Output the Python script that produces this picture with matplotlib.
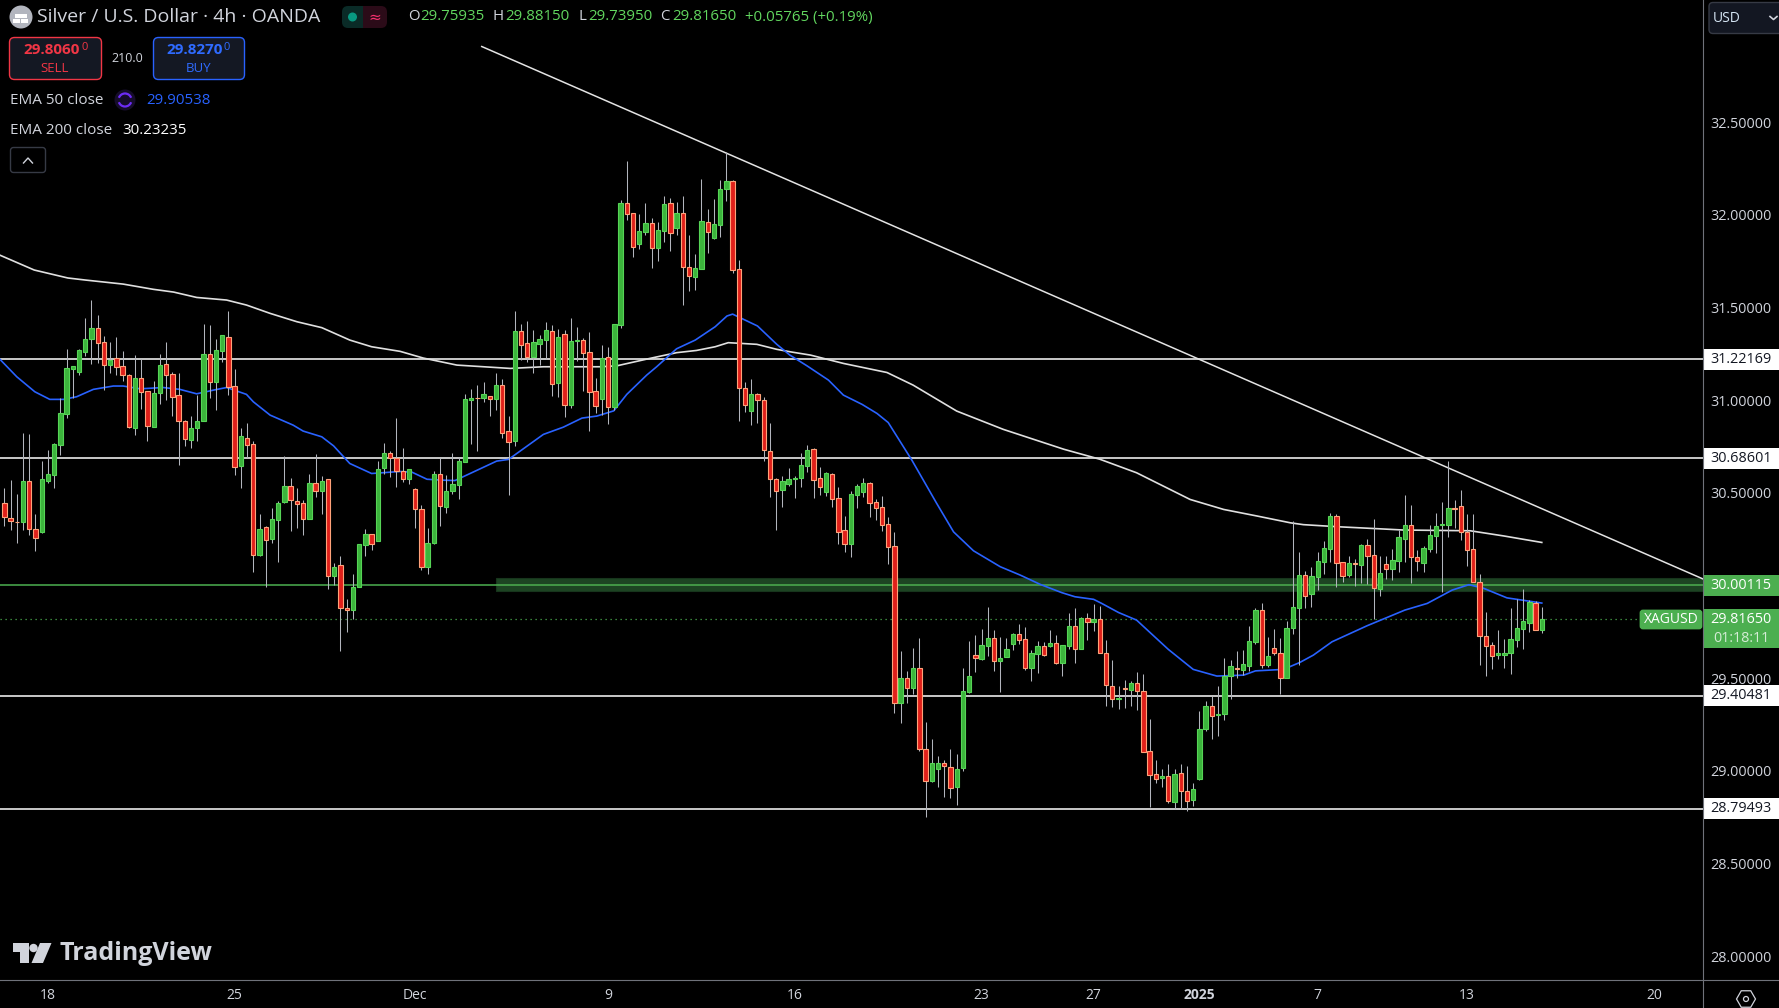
import numpy as np
import matplotlib
matplotlib.use('Agg')
import matplotlib.pyplot as plt
from matplotlib.patches import Rectangle, FancyBboxPatch, Circle, Polygon, Arc, RegularPolygon

plt.rcParams['font.family'] = ['Open Sans', 'DejaVu Sans']

# 4h candles
highs = [30.528,30.568,30.492,30.820,30.816,30.388,30.669,30.730,30.766,31.014,
         31.275,31.184,31.275,31.443,31.540,31.459,31.346,31.313,31.340,31.265,
         31.139,31.243,31.221,31.049,31.103,31.248,31.313,31.153,31.146,30.892,
         30.914,31.027,31.410,31.405,31.328,31.351,31.481,31.167,30.847,30.874,
         30.777,30.384,30.321,30.420,30.455,30.698,30.582,30.528,30.460,30.604,
         30.708,30.593,30.577,30.123,30.161,29.925,30.060,30.222,30.303,30.276,
         30.669,30.766,30.723,30.903,30.739,30.631,30.528,30.433,30.309,30.617,
         30.687,30.595,30.714,30.692,31.031,31.059,31.079,31.097,31.022,31.146,
         31.113,30.914,31.481,31.410,31.427,31.378,31.351,31.421,31.405,31.383,
         31.378,31.443,31.394,31.335,31.367,31.119,31.297,31.286,31.412,32.080,
         32.291,32.010,32.004,32.064,31.983,31.961,32.102,32.091,32.069,32.102,
         31.891,31.788,32.193,32.031,32.085,32.188,32.337,32.186,31.754,31.097,
         31.113,31.036,31.018,30.874,30.581,30.593,30.633,30.590,30.715,30.758,
         30.742,30.639,30.610,30.607,30.531,30.373,30.510,30.547,30.578,30.558,
         30.466,30.483,30.369,30.288,29.646,29.538,29.662,29.716,29.262,29.170,
         29.079,29.057,29.116,29.089,29.554,29.700,29.732,29.764,29.883,29.759,
         29.721,29.716,29.741,29.791,29.775,29.651,29.700,29.694,29.757,29.732,
         29.678,29.851,29.878,29.829,29.851,29.899,29.889,29.705,29.597,29.457,
         29.489,29.484,29.532,29.521,29.278,29.057,29.008,29.035,29.008,29.035,
         29.025,28.933,29.322,29.376,29.406,29.457,29.606,29.597,29.646,29.651,
         29.781,29.878,29.905,29.721,29.763,29.714,29.808,30.348,30.178,30.078,
         30.099,30.180,30.238,30.391,30.384,30.126,30.159,30.142,30.222,30.250,
         30.358,30.159,30.159,30.196,30.299,30.488,30.434,30.191,30.213,30.326,
         30.393,30.452,30.672,30.461,30.515,30.385,30.385,30.061,29.856,29.696,
         29.759,29.710,29.878,29.925,29.979,29.923,29.914,29.881]
lows = [30.320,30.298,30.230,30.298,30.271,30.186,30.285,30.554,30.525,30.703,
        30.903,31.014,31.135,31.238,31.194,31.198,31.054,31.148,31.135,31.104,
        30.851,30.811,30.951,30.779,30.854,30.978,31.000,30.914,30.649,30.753,
        30.743,30.779,30.887,31.011,30.946,31.207,31.027,30.595,30.527,30.694,
        30.073,30.159,29.992,30.230,30.127,30.446,30.294,30.311,30.273,30.357,
        30.478,30.384,29.979,30.003,29.646,29.749,29.817,29.990,30.158,30.190,
        30.238,30.600,30.586,30.532,30.557,30.550,30.309,30.082,30.060,30.222,
        30.320,30.390,30.496,30.465,30.665,30.762,30.725,30.989,30.914,30.946,
        30.795,30.487,30.752,31.216,31.205,31.146,31.189,31.223,31.022,31.016,
        30.908,30.957,31.211,31.049,30.833,30.930,30.919,30.870,30.946,31.389,
        31.972,31.772,31.815,31.891,31.713,31.751,31.853,31.805,31.891,31.513,
        31.589,31.594,31.707,31.794,31.871,31.880,32.075,31.686,30.887,30.935,
        30.865,30.874,30.671,30.476,30.298,30.422,30.536,30.471,30.531,30.614,
        30.472,30.488,30.483,30.423,30.223,30.180,30.153,30.418,30.475,30.369,
        30.353,30.294,30.115,29.311,29.257,29.368,29.413,29.107,28.751,28.940,
        28.911,28.857,28.852,28.814,28.999,29.417,29.532,29.597,29.619,29.538,
        29.424,29.613,29.651,29.683,29.543,29.484,29.527,29.619,29.669,29.575,
        29.511,29.658,29.581,29.656,29.705,29.754,29.635,29.349,29.343,29.332,
        29.338,29.349,29.327,29.100,28.803,28.933,28.911,28.827,28.796,28.792,
        28.783,28.809,28.949,29.214,29.170,29.187,29.273,29.386,29.500,29.516,
        29.538,29.685,29.554,29.561,29.624,29.413,29.500,29.737,29.570,29.878,
        29.883,29.975,30.061,30.128,29.993,30.018,30.045,29.997,30.015,30.006,
        29.817,29.943,30.034,30.029,30.072,30.124,30.013,30.078,30.072,30.180,
        30.175,29.964,30.261,30.310,30.245,30.105,30.018,29.570,29.511,29.548,
        29.602,29.554,29.521,29.667,29.656,29.748,29.759,29.743]
opens = [30.447,30.366,30.345,30.343,30.566,30.307,30.289,30.564,30.597,30.759,
         30.926,31.169,31.153,31.261,31.328,31.387,31.311,31.191,31.225,31.182,
         31.133,30.851,31.122,31.047,30.856,31.040,31.193,31.139,31.025,30.890,
         30.786,30.851,30.888,31.247,31.099,31.266,31.338,31.074,30.645,30.798,
         30.761,30.165,30.318,30.251,30.354,30.451,30.534,30.458,30.447,30.359,
         30.555,30.510,30.572,30.051,30.113,29.880,29.868,29.992,30.219,30.275,
         30.240,30.635,30.717,30.685,30.620,30.575,30.523,30.410,30.100,30.230,
         30.604,30.424,30.510,30.543,30.667,31.002,31.014,31.013,31.020,31.007,
         31.079,30.831,30.780,31.371,31.306,31.234,31.304,31.326,31.371,31.094,
         31.355,30.975,31.320,31.322,31.257,31.047,31.007,31.230,30.962,31.407,
         32.062,32.008,31.844,31.909,31.954,31.823,31.914,32.062,31.931,32.008,
         31.716,31.666,31.709,31.959,31.873,31.947,32.141,32.181,31.706,31.063,
         30.942,31.031,30.998,30.728,30.577,30.516,30.548,30.572,30.582,30.646,
         30.735,30.578,30.506,30.600,30.470,30.297,30.225,30.490,30.506,30.551,
         30.448,30.421,30.330,30.211,29.367,29.498,29.448,29.557,29.120,28.945,
         29.010,29.044,29.023,28.913,29.016,29.426,29.622,29.604,29.674,29.719,
         29.593,29.615,29.685,29.736,29.709,29.556,29.631,29.671,29.673,29.692,
         29.583,29.674,29.779,29.658,29.822,29.804,29.817,29.638,29.460,29.388,
         29.444,29.435,29.476,29.428,29.104,28.980,28.960,28.974,28.832,28.990,
         28.893,28.843,28.954,29.226,29.352,29.302,29.307,29.512,29.557,29.545,
         29.566,29.696,29.865,29.572,29.665,29.638,29.502,29.772,29.880,30.054,
         29.955,30.047,30.128,30.198,30.373,30.124,30.058,30.119,30.112,30.216,
         30.162,29.982,30.114,30.090,30.133,30.252,30.324,30.151,30.123,30.198,
         30.268,30.326,30.328,30.416,30.427,30.286,30.195,30.016,29.725,29.676,
         29.626,29.626,29.637,29.707,29.766,29.799,29.903,29.761]
closes = [30.370,30.348,30.343,30.566,30.305,30.257,30.572,30.599,30.762,30.928,
          31.171,31.182,31.268,31.328,31.387,31.310,31.191,31.214,31.180,31.137,
          30.856,31.122,31.045,30.861,31.036,31.187,31.137,31.018,30.888,30.791,
          30.852,30.890,31.247,31.099,31.268,31.349,31.072,30.640,30.804,30.759,
          30.165,30.307,30.246,30.361,30.447,30.534,30.462,30.442,30.359,30.555,
          30.510,30.566,30.051,30.102,29.880,29.868,29.994,30.221,30.280,30.224,
          30.631,30.712,30.687,30.618,30.575,30.626,30.413,30.100,30.231,30.604,
          30.429,30.512,30.545,30.669,31.004,31.014,31.013,31.031,31.007,31.079,
          30.824,30.775,31.371,31.299,31.234,31.311,31.328,31.376,31.088,31.338,
          30.975,31.317,31.322,31.256,31.045,30.969,31.225,30.964,31.409,32.062,
          32.006,31.828,31.911,31.954,31.823,31.916,32.057,31.904,32.008,31.720,
          31.671,31.711,31.965,31.909,31.949,32.138,32.181,31.704,31.068,30.975,
          31.031,30.998,30.732,30.575,30.510,30.561,30.572,30.582,30.648,30.729,
          30.571,30.533,30.605,30.468,30.290,30.225,30.492,30.535,30.551,30.447,
          30.420,30.328,30.209,29.367,29.498,29.448,29.552,29.118,28.945,29.044,
          29.044,29.026,28.908,29.012,29.433,29.514,29.610,29.676,29.719,29.593,
          29.611,29.655,29.736,29.707,29.556,29.633,29.671,29.626,29.692,29.583,
          29.676,29.779,29.658,29.822,29.804,29.817,29.637,29.464,29.388,29.390,
          29.439,29.471,29.431,29.102,28.978,28.956,28.974,28.837,28.985,28.891,
          28.837,28.904,29.223,29.352,29.296,29.307,29.514,29.568,29.550,29.574,
          29.698,29.865,29.572,29.617,29.637,29.502,29.773,29.881,30.054,29.944,
          30.049,30.130,30.200,30.373,30.123,30.052,30.119,30.117,30.216,30.160,
          29.988,30.069,30.090,30.135,30.259,30.324,30.155,30.133,30.200,30.270,
          30.319,30.330,30.416,30.414,30.290,30.193,30.020,29.725,29.674,29.620,
          29.633,29.638,29.709,29.768,29.806,29.908,29.761,29.817]

# moving averages, read at bar positions
ema50_x = [-0.7,2,4.9,7.3,9.5,11.6,14.3,17.5,19.1,21.8,25.5,28.2,30.9,33.6,35.7,38.9,40,42.7,46.4,48,51,52.9,
           55.5,59,63.6,65.5,67.9,70.5,72.4,79.1,81,86.6,89.8,92.8,95.2,97.9,100,103.2,104.8,108,111,114.2,
           116.1,117,121,124.1,126.2,129,132.4,134.8,137.8,140.2,142,145.8,149.8,152.5,155.7,160,163.2,166.4,
           169.9,172,175,176.3,179,181.9,187,191,194.8,199.1,201,205.5,208.1,210.3,213.3,218.9,225,228.6,
           232.6,235.3,237.7,241.4,247]
ema50_y = [31.220,31.126,31.045,31.004,31.004,31.018,31.058,31.076,31.076,31.061,31.068,31.058,31.034,31.054,31.068,
           31.031,30.991,30.919,30.865,30.833,30.802,30.753,30.658,30.604,30.615,30.611,30.573,30.568,30.566,30.671,
           30.680,30.815,30.854,30.903,30.914,30.942,31.031,31.135,31.180,31.277,31.324,31.396,31.454,31.464,31.400,
           31.301,31.243,31.184,31.108,31.027,30.977,30.928,30.879,30.676,30.442,30.289,30.187,30.101,30.056,30.006,
           29.961,29.939,29.925,29.903,29.854,29.813,29.655,29.547,29.511,29.516,29.539,29.547,29.584,29.624,29.696,
           29.782,29.867,29.903,29.975,30.004,29.984,29.933,29.905]
ema200_x = [-0.7,4.8,10.2,13,19.1,23.9,27.2,30.9,35.7,38.9,42.7,47,51,55.5,59,63.6,67.3,72.7,81.3,86.6,95.7,98.4,
            103.7,108,111.2,114.2,116.3,120.9,124.1,126.2,129.5,134.8,141.8,146,153,160.5,170.2,176,181.9,190.5,
            195.9,201.2,206.6,208.7,214.1,219.5,224.8,235.5,240.9,247]
ema200_y = [31.782,31.702,31.659,31.648,31.626,31.598,31.583,31.554,31.540,31.513,31.468,31.423,31.391,31.324,31.288,
            31.263,31.227,31.189,31.171,31.180,31.180,31.185,31.225,31.256,31.268,31.288,31.310,31.301,31.274,31.261,
            31.243,31.198,31.149,31.081,30.941,30.842,30.735,30.681,30.608,30.464,30.410,30.375,30.338,30.328,30.317,
            30.308,30.299,30.295,30.267,30.232]

levels = [31.22169, 30.68601, 29.40481, 28.79493]
resist = 30.00115
last_close = 29.81650
zone = [29.969, 30.042]
zone_start = 79.0
trend_x = [76.7, 272.9]
trend_y = [32.908, 30.035]

price_ticks = [28.0, 28.5, 29.0, 29.5, 30.5, 31.0, 31.5, 32.0, 32.5]
date_ticks = [7, 37, 66, 97, 127, 157, 175, 192, 211, 235, 265]
date_labels = ['18', '25', 'Dec', '9', '16', '23', '27', '2025', '7', '13', '20']

GREEN = '#4caf50'
TXT = '#d1d4dc'

opens = np.array(opens)
closes = np.array(closes)
idx = np.arange(len(opens))
up = closes >= opens

fig = plt.figure(figsize=(17.79, 10.08), dpi=100, facecolor='black')
ax = fig.add_axes([0, 28 / 1008, 1703 / 1779, 980 / 1008], facecolor='black')
ax.set_xlim(-0.696, 272.9)
ax.set_ylim(27.871, 33.159)

# levels, zone and averages sit behind the candles
ax.add_patch(Rectangle((zone_start, zone[0]), 272.9 - zone_start, zone[1] - zone[0],
                       facecolor='#1d4423', edgecolor='#17351c', lw=0.8, zorder=1))
ax.hlines(levels, -1, 273, color='white', lw=1.1, zorder=2)
ax.axhline(resist, color=GREEN, lw=1.1, zorder=2)
ax.axhline(last_close, color=GREEN, lw=0.9, ls=(0, (1, 3)), zorder=2)
ax.plot(trend_x, trend_y, color='#e4e4e4', lw=1.1, zorder=2)
ax.plot(ema200_x, ema200_y, color='#e0e0e0', lw=1.2, zorder=2)
ax.plot(ema50_x, ema50_y, color='#2962ff', lw=1.2, zorder=2)

ax.vlines(idx, lows, highs, color='#b2b5bd', lw=0.75, zorder=3)
ax.bar(idx[up], (closes - opens)[up], bottom=opens[up], width=0.7,
       facecolor='#3cb43c', edgecolor='#56d456', lw=0.8, zorder=4)
ax.bar(idx[~up], (opens - closes)[~up], bottom=closes[~up], width=0.7,
       facecolor='#e0201a', edgecolor='#ffa27a', lw=0.8, zorder=4)

ax.yaxis.tick_right()
ax.set_yticks(price_ticks)
ax.set_yticklabels([f'{t:.5f}' for t in price_ticks])
ax.tick_params(axis='y', length=0, pad=5.5, labelsize=10.4, labelcolor=TXT)
ax.set_xticks(date_ticks)
ax.set_xticklabels(date_labels)
ax.tick_params(axis='x', length=0, pad=6, labelsize=10, labelcolor=TXT)
ax.get_xticklabels()[date_labels.index('2025')].set_fontweight('bold')
for s in ax.spines.values():
    s.set_visible(False)

# price tags on the scale
tr = ax.get_yaxis_transform()
tag_w = 76 / 1703
tag_h = 10.5 / 185.3
for v in levels:
    ax.add_patch(Rectangle((1, v - tag_h), tag_w, 2 * tag_h, transform=tr, facecolor='white',
                           edgecolor='none', clip_on=False, zorder=6))
    ax.text(1 + tag_w / 2, v, f'{v:.5f}', transform=tr, color='#131722', fontsize=10.4,
            ha='center', va='center', clip_on=False, zorder=7)
ax.add_patch(Rectangle((1, resist - tag_h), tag_w, 2 * tag_h, transform=tr, facecolor=GREEN,
                       edgecolor='none', clip_on=False, zorder=6))
ax.text(1 + tag_w / 2, resist, f'{resist:.5f}', transform=tr, color='white', fontsize=10.4,
        ha='center', va='center', clip_on=False, zorder=7)

# everything else is chart furniture, placed in pixels
ov = fig.add_axes([0, 0, 1, 1], facecolor='none')
ov.set_xlim(0, 1779)
ov.set_ylim(1008, 0)
ov.axis('off')

ov.plot([1703, 1703], [0, 1008], color='#6f727a', lw=0.8)
ov.plot([0, 1779], [980, 980], color='#6f727a', lw=0.8)

# last price tag
ov.add_patch(FancyBboxPatch((1641, 611), 60, 17, boxstyle='round,pad=0,rounding_size=2', facecolor=GREEN, edgecolor=GREEN, lw=2))
ov.text(1671, 619.5, 'XAGUSD', color='white', fontsize=10, ha='center', va='center')
ov.add_patch(Rectangle((1703.5, 609), 75.5, 39, facecolor=GREEN, edgecolor='none'))
ov.text(1741, 619.5, f'{last_close:.5f}', color='white', fontsize=10.4, ha='center', va='center')
ov.text(1741, 638, '01:18:11', color='#d5ecd6', fontsize=10.4, ha='center', va='center')

# header
ov.add_patch(Circle((21, 17), 11.5, facecolor='#b2b5be', edgecolor='none'))
ov.add_patch(Rectangle((15, 14), 12, 4, facecolor='white', edgecolor='none'))
ov.add_patch(Rectangle((13, 19), 7, 4, facecolor='white', edgecolor='none'))
ov.add_patch(Rectangle((21, 19), 7, 4, facecolor='white', edgecolor='none'))
ov.text(37, 17, 'Silver / U.S. Dollar · 4h · OANDA', color=TXT, fontsize=14, ha='left', va='center')

ov.add_patch(FancyBboxPatch((342, 6), 23, 22, boxstyle='round,pad=0,rounding_size=6', facecolor='#0a2b27', edgecolor='none'))
ov.add_patch(FancyBboxPatch((362, 6), 25, 22, boxstyle='round,pad=0,rounding_size=6', facecolor='#2b0b18', edgecolor='none'))
ov.add_patch(Rectangle((353, 6), 10, 22, facecolor='#0a2b27', edgecolor='none'))
ov.add_patch(Rectangle((363, 6), 10, 22, facecolor='#2b0b18', edgecolor='none'))
ov.add_patch(Circle((352.5, 17), 4.5, facecolor='#089981', edgecolor='none'))
ov.text(375, 17, '≈', color='#f7316f', fontsize=11, ha='center', va='center', family=['DejaVu Sans'])

OHLC_GREEN = '#62d75f'
for x, s, c in [(408, 'O', TXT), (420, '29.75935', OHLC_GREEN), (493, 'H', TXT), (505, '29.88150', OHLC_GREEN),
                (578, 'L', TXT), (588, '29.73950', OHLC_GREEN), (660, 'C', TXT), (672, '29.81650', OHLC_GREEN),
                (745, '+0.05765 (+0.19%)', OHLC_GREEN)]:
    ov.text(x, 17, s, color=c, fontsize=10.8, ha='left', va='center')

# sell / buy buttons
ov.add_patch(FancyBboxPatch((9.5, 37.5), 92, 42, boxstyle='round,pad=0,rounding_size=5', facecolor='#141823', edgecolor='#f23645', lw=1))
ov.add_patch(FancyBboxPatch((153.5, 37.5), 91, 42, boxstyle='round,pad=0,rounding_size=5', facecolor='#141823', edgecolor='#2962ff', lw=1))
ov.text(23, 50, '29.8060', color='#f23645', fontsize=11, fontweight='bold', ha='left', va='center')
ov.text(81, 48, '0', color='#f23645', fontsize=8, ha='left', va='center')
ov.text(55, 68, 'SELL', color='#f23645', fontsize=9.5, ha='center', va='center')
ov.text(127, 58, '210.0', color=TXT, fontsize=9, ha='center', va='center')
ov.text(166, 50, '29.8270', color='#2f6bff', fontsize=11, fontweight='bold', ha='left', va='center')
ov.text(224, 48, '0', color='#2f6bff', fontsize=8, ha='left', va='center')
ov.text(199, 68, 'BUY', color='#2f6bff', fontsize=9.5, ha='center', va='center')

# indicator legend
ov.text(10, 100, 'EMA 50 close', color=TXT, fontsize=11, ha='left', va='center')
ov.add_patch(Circle((125, 100), 10.5, facecolor='#160d2b', edgecolor='none'))
ov.add_patch(Arc((125, 100), 13, 13, theta1=20, theta2=160, color='#6c2cf5', lw=1.6))
ov.add_patch(Arc((125, 100), 13, 13, theta1=200, theta2=340, color='#6c2cf5', lw=1.6))
ov.text(146, 100, '29.90538', color='#2962ff', fontsize=10.8, ha='left', va='center')
ov.text(10, 130, 'EMA 200 close', color=TXT, fontsize=11, ha='left', va='center')
ov.text(122, 130, '30.23235', color='white', fontsize=10.8, ha='left', va='center')
ov.add_patch(FancyBboxPatch((10.5, 147.5), 35, 25, boxstyle='round,pad=0,rounding_size=3', facecolor='black', edgecolor='#363a45', lw=1))
ov.plot([23.5, 28, 32.5], [163, 158, 163], color=TXT, lw=1)

# currency box
ov.add_patch(FancyBboxPatch((1709, 2.5), 80, 31, boxstyle='round,pad=0,rounding_size=4', facecolor='#131722', edgecolor='#363a45', lw=1, clip_on=True))
ov.text(1713, 18, 'USD', color='#d6e6f5', fontsize=10, ha='left', va='center')
ov.plot([1770, 1773.5, 1777], [16.5, 19.5, 16.5], color=TXT, lw=1.2)

# settings hexagon
ov.add_patch(RegularPolygon((1746, 999), 6, radius=9.5, orientation=np.pi / 6, facecolor='none', edgecolor=TXT, lw=0.9))
ov.add_patch(Circle((1746, 999), 2.5, facecolor='none', edgecolor=TXT, lw=0.9))

# TradingView logo
ov.add_patch(Polygon([(13, 943), (29, 943), (29, 963), (20, 963), (20, 952), (13, 952)], closed=True, facecolor=TXT, edgecolor='none'))
ov.add_patch(Circle((33.5, 948), 4.2, facecolor=TXT, edgecolor='none'))
ov.add_patch(Polygon([(40, 943), (51.5, 943), (43, 963), (31.5, 963)], closed=True, facecolor=TXT, edgecolor='none'))
ov.text(60, 953, 'TradingView', color=TXT, fontsize=18, fontweight='bold', ha='left', va='center')

fig.savefig('out.png', dpi=100, facecolor='black')
